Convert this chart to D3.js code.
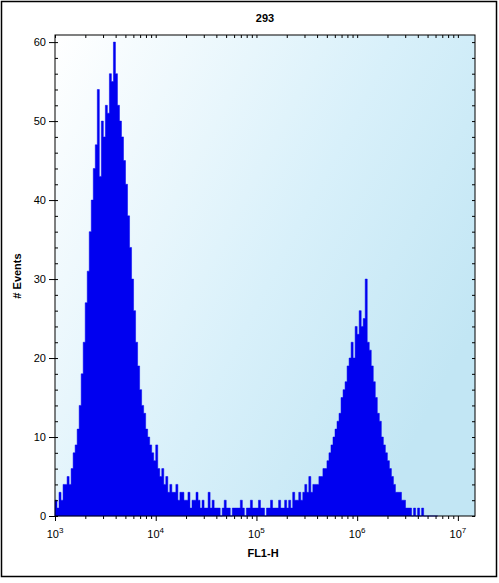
<!DOCTYPE html><html><head><meta charset="utf-8">
<script src="https://cdn.jsdelivr.net/npm/d3@7"></script>
<style>body{margin:0;background:#fff}</style></head><body>
<script>
const binStart = 3.0, binWidth = 0.02;
const counts = [
2,1,3,2,4,4,5,4,6,8,
9,11,14,18,22,27,31,36,40,44,
47,54,43,50,48,52,51,56,55,60,
56,52,50,48,45,42,38,34,30,26,
22,19,16,14,13,11,10,9,8,7,
9,6,5,6,4,5,3,4,3,3,
4,2,3,3,2,2,3,1,2,2,
3,2,1,2,1,1,3,1,2,1,
1,1,0,1,2,1,1,0,1,1,
1,1,2,1,0,1,1,2,1,1,
1,2,1,1,0,1,1,2,1,1,
1,2,1,1,2,1,2,1,3,2,
2,3,2,3,4,3,5,3,4,4,
4,5,5,6,6,7,8,9,10,11,
12,13,15,16,17,19,20,22,20,24,
23,26,24,25,30,22,21,19,17,15,
13,12,10,9,8,7,6,5,4,3,
3,3,2,2,1,1,1,0,1,0,
1,0,1,0,0,0,0,0,0,0];
const yTicks = [0,10,20,30,40,50,60];
const xTicks = [1e3,1e4,1e5,1e6,1e7];
const title = "293", xLabel = "FL1-H", yLabel = "# Events";

const W=499,H=583, m={l:55,r:475,t:35,b:516};
const svg=d3.select("body").append("svg").attr("width",W).attr("height",H);
const defs=svg.append("defs");
const g=defs.append("linearGradient").attr("id","bg").attr("x1","0").attr("y1","0").attr("x2","1").attr("y2","0.6");
g.append("stop").attr("offset","0").attr("stop-color","#ffffff");
g.append("stop").attr("offset","0.6").attr("stop-color","#d8f0fa");
g.append("stop").attr("offset","1").attr("stop-color","#c2e6f4");
svg.append("rect").attr("x",1.5).attr("y",1.5).attr("width",W-4).attr("height",H-8).attr("fill","#fff").attr("stroke","#000").attr("stroke-width",1.5);
const x=d3.scaleLog().domain([1e3,Math.pow(10,7.17)]).range([m.l,m.r]);
const y=d3.scaleLinear().domain([0,60.9]).range([m.b,m.t]);
svg.append("rect").attr("x",m.l).attr("y",m.t).attr("width",m.r-m.l).attr("height",m.b-m.t).attr("fill","url(#bg)");
const pts=counts.map((c,i)=>[Math.pow(10,binStart+i*binWidth),c]);
pts.push([Math.pow(10,binStart+counts.length*binWidth),0]);
svg.append("path").datum(pts).attr("fill","#0000f0").attr("stroke","#0000f0").attr("stroke-width",0.5)
 .attr("d",d3.area().curve(d3.curveStepAfter).x(d=>x(d[0])).y0(y(0)).y1(d=>y(d[1])));
svg.append("rect").attr("x",m.l).attr("y",m.t).attr("width",m.r-m.l).attr("height",m.b-m.t).attr("fill","none").attr("stroke","#000");
const minorX=[];for(let e=3;e<7;e++)for(let k=2;k<10;k++)minorX.push(k*Math.pow(10,e));
svg.append("g").attr("transform",`translate(0,${m.b})`).call(d3.axisBottom(x).tickValues(xTicks).tickSize(5).tickFormat(()=>""));
svg.append("g").attr("transform",`translate(0,${m.b})`).call(d3.axisBottom(x).tickValues(minorX).tickSize(3).tickFormat(()=>""));
svg.append("g").attr("transform",`translate(0,${m.t})`).call(d3.axisTop(x).tickValues(minorX.concat(xTicks)).tickSizeInner(-3).tickSizeOuter(0).tickFormat(()=>""));
svg.selectAll(".domain").remove();
xTicks.forEach(v=>{const t=svg.append("text").attr("x",x(v)).attr("y",538).attr("text-anchor","middle").attr("font-family","Arial").attr("font-size",11);
 t.append("tspan").text("10");t.append("tspan").attr("dy",-5).attr("font-size",8).text(Math.round(Math.log10(v)));});
const yMinor=d3.range(0,61,2);
svg.append("g").attr("transform",`translate(${m.l},0)`).call(d3.axisLeft(y).tickValues(yTicks).tickSize(6).tickFormat(d3.format("d"))).call(a=>a.select(".domain").remove()).selectAll("text").attr("font-family","Arial").attr("font-size",11);
svg.append("g").attr("transform",`translate(${m.l},0)`).call(d3.axisRight(y).tickValues(yMinor).tickSize(3).tickFormat(()=>"")).call(a=>a.select(".domain").remove());
svg.append("g").attr("transform",`translate(${m.r},0)`).call(d3.axisLeft(y).tickValues(yMinor).tickSize(3).tickFormat(()=>"")).call(a=>a.select(".domain").remove());
svg.append("text").attr("x",265).attr("y",22).attr("text-anchor","middle").attr("font-family","Arial").attr("font-weight","bold").attr("font-size",11).text(title);
svg.append("text").attr("x",263).attr("y",557).attr("text-anchor","middle").attr("font-family","Arial").attr("font-weight","bold").attr("font-size",11).text(xLabel);
svg.append("text").attr("transform","translate(21,276) rotate(-90)").attr("text-anchor","middle").attr("font-family","Arial").attr("font-weight","bold").attr("font-size",11).text(yLabel);
</script></body></html>
